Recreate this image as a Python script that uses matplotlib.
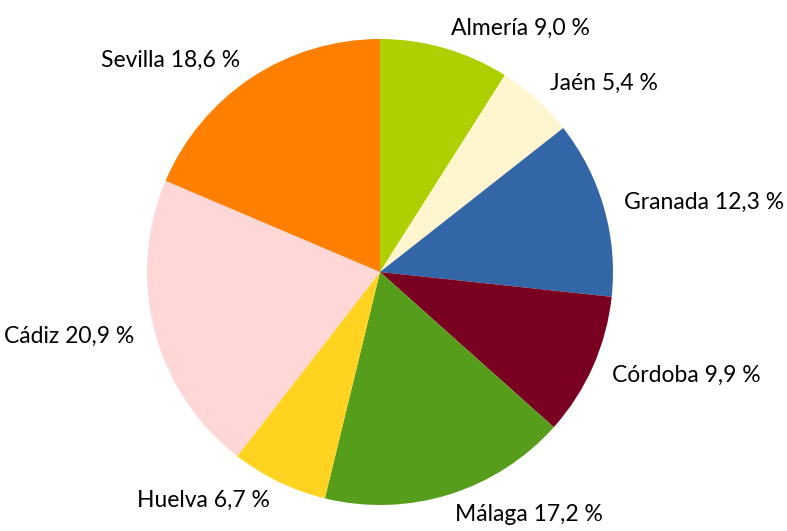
import matplotlib
matplotlib.use("Agg")
import matplotlib.pyplot as plt

provinces = ["Almería", "Jaén", "Granada", "Córdoba", "Málaga", "Huelva", "Cádiz", "Sevilla"]
shares = [9.0, 5.4, 12.3, 9.9, 17.2, 6.7, 20.9, 18.6]
colors = ["#AED000", "#FFF5CE", "#3366A6", "#7A0021", "#579D1C", "#FFD320", "#FFD7D7", "#FF8000"]

labels = [f"{p} {v:.1f} %".replace(".", ",") for p, v in zip(provinces, shares)]

W, H = 787, 531
fig = plt.figure(figsize=(W / 100, H / 100), dpi=100)
cx, cy, r = 380, 272, 233
ax = fig.add_axes([(cx - r) / W, (H - cy - r) / H, 2 * r / W, 2 * r / H])
wedges, texts = ax.pie(shares, colors=colors, startangle=90, counterclock=False,
                       labels=labels, labeldistance=1.09, radius=1,
                       textprops=dict(fontsize=16.5, family=["Lato", "DejaVu Sans"]))
ax.set_xlim(-1, 1)
ax.set_ylim(-1, 1)
ax.set_aspect("equal")
ax.axis("off")
fig.savefig("out.png", dpi=100)
